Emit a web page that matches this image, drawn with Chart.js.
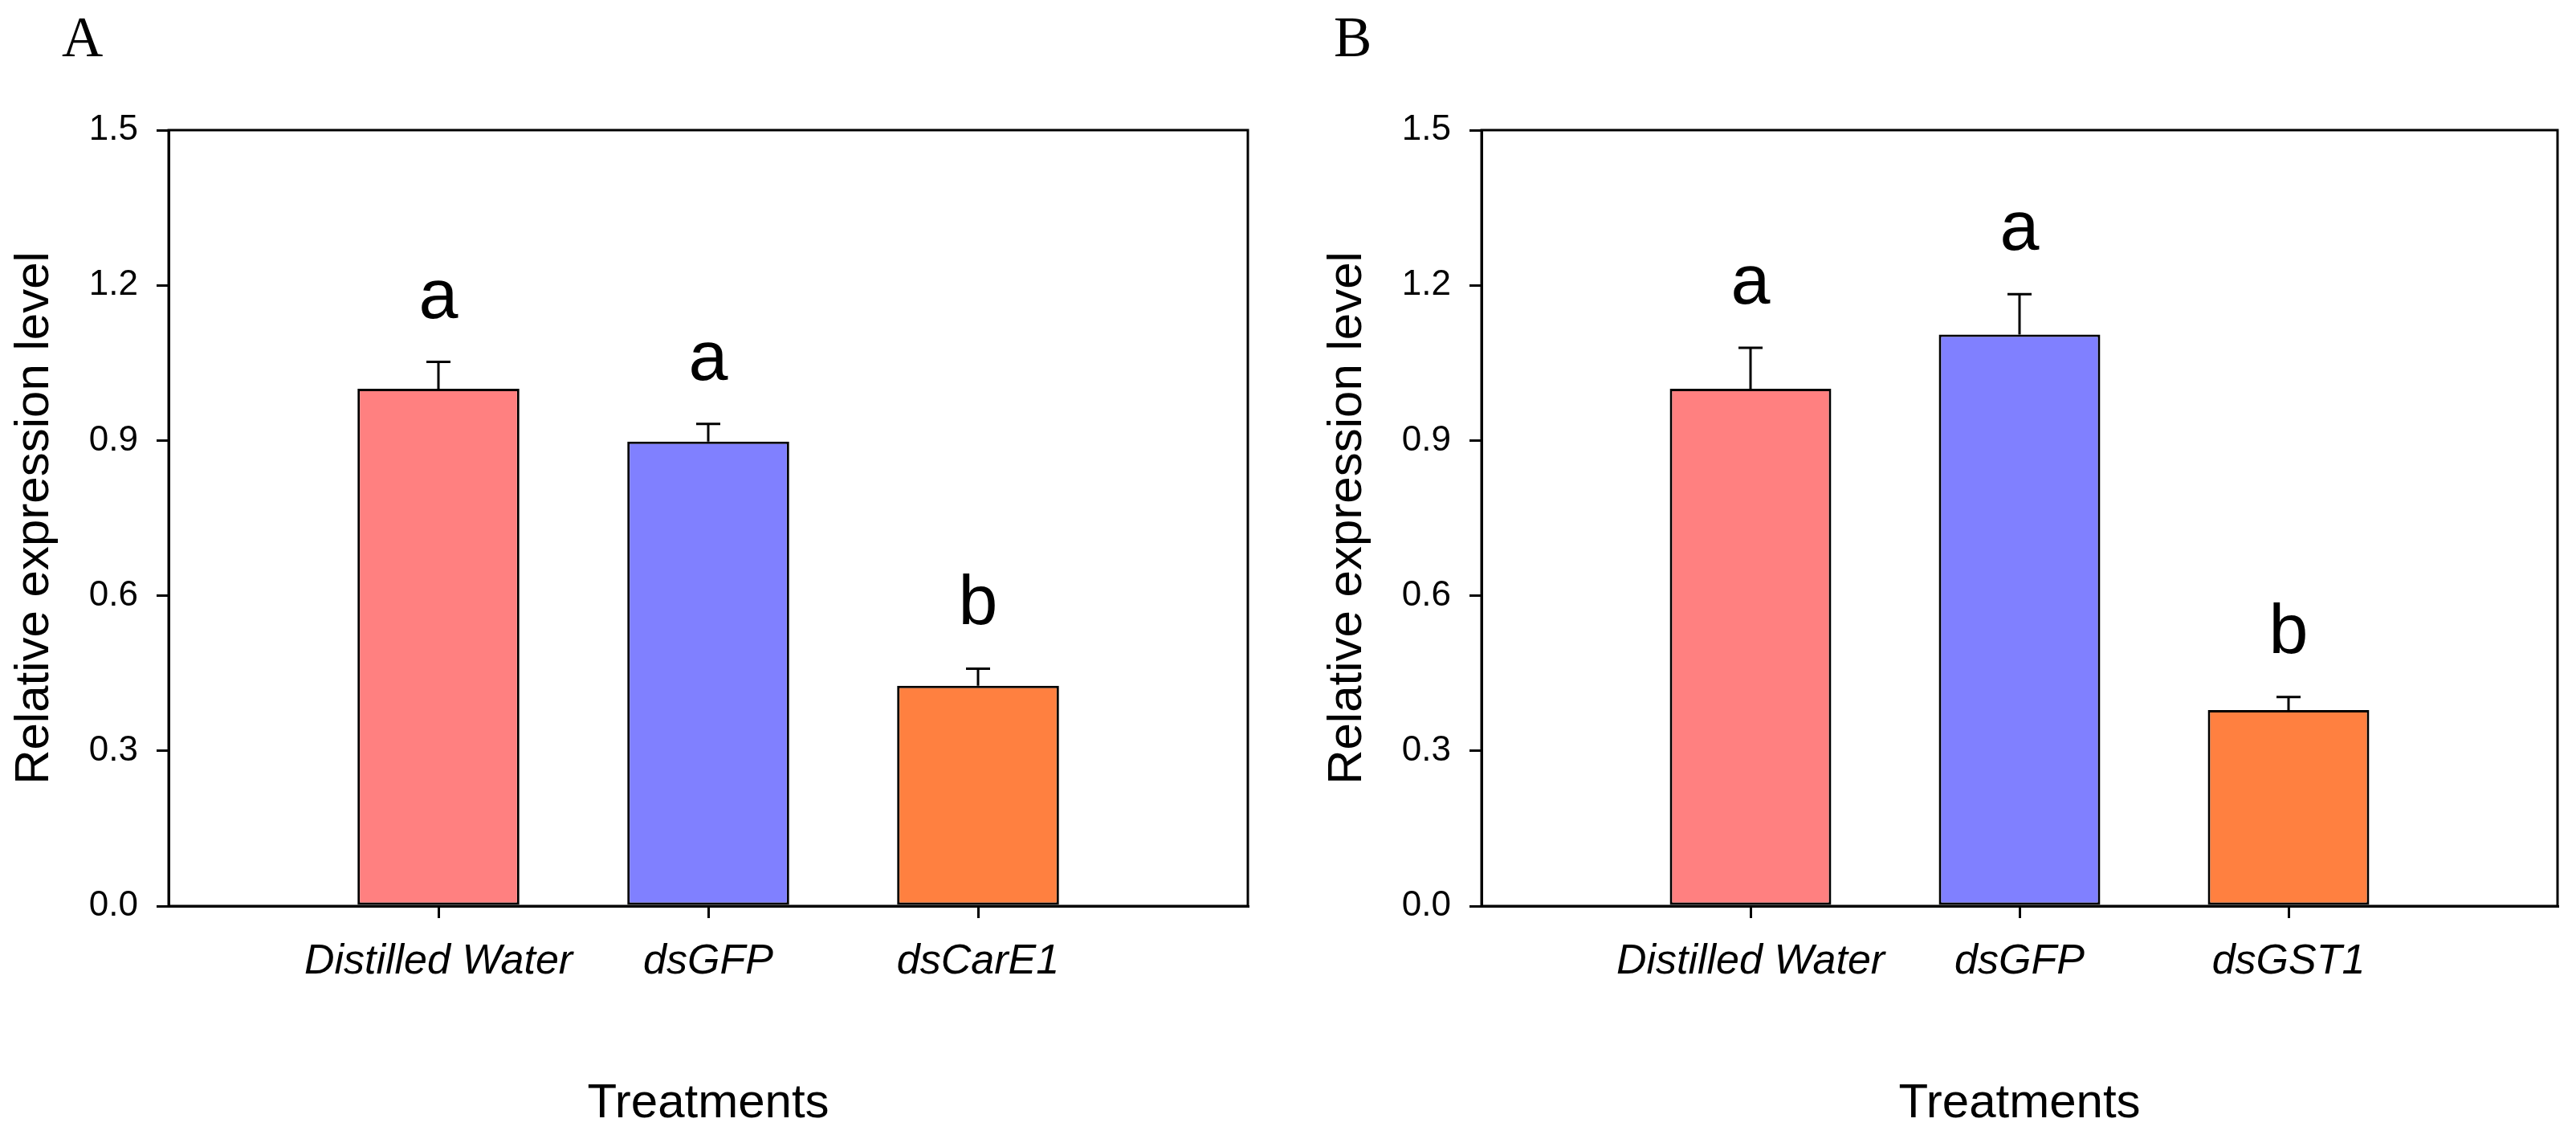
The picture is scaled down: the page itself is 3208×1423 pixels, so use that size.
<!DOCTYPE html>
<html>
<head>
<meta charset="utf-8">
<script src="https://cdn.jsdelivr.net/npm/chart.js@4.4.1/dist/chart.umd.min.js"></script>
<style>
    body { margin: 0; background: #fff; }
    canvas { position: absolute; top: 0; }
</style>
</head>
<body>
<canvas id="graficaA" width="1635" height="1423" style="left:0px"></canvas>
<canvas id="graficaB" width="1573" height="1423" style="left:1635px"></canvas>
<script>
// Datos
const tratamientosA = ['Distilled Water', 'dsGFP', 'dsCarE1'];
const expresionA = [1.0, 0.898, 0.426];
const errorA = [0.052, 0.034, 0.033];
const letrasA = ['a', 'a', 'b'];

const tratamientosB = ['Distilled Water', 'dsGFP', 'dsGST1'];
const expresionB = [1.0, 1.105, 0.379];
const errorB = [0.079, 0.078, 0.025];
const letrasB = ['a', 'a', 'b'];

const ticksY = [0.0, 0.3, 0.6, 0.9, 1.2, 1.5];

// Colores de las barras (estilo SigmaPlot)
const coloresBarras = ['#FF8080', '#8080FF', '#FF8040'];
const FUENTE = '"Liberation Sans", Arial, sans-serif';

// Barras de error (solo hacia arriba) y letras de significancia
const barrasError = {
    id: 'barrasError',
    afterDatasetsDraw(chart, args, opts) {
        const ctx = chart.ctx;
        const escalaY = chart.scales.y;
        const meta = chart.getDatasetMeta(0);
        const valores = chart.data.datasets[0].data;

        ctx.save();
        ctx.strokeStyle = '#000';
        ctx.lineWidth = 3;
        meta.data.forEach((barra, i) => {
            const valor = valores[i];
            if (valor === null || valor === undefined) return;
            const yArriba = escalaY.getPixelForValue(valor + opts.errores[i]);

            ctx.beginPath();
            ctx.moveTo(barra.x, barra.y);
            ctx.lineTo(barra.x, yArriba);
            ctx.moveTo(barra.x - 15, yArriba);
            ctx.lineTo(barra.x + 15, yArriba);
            ctx.stroke();

            ctx.fillStyle = '#000';
            ctx.font = '88px ' + FUENTE;
            ctx.textAlign = 'center';
            ctx.textBaseline = 'alphabetic';
            ctx.fillText(opts.letras[i], barra.x, yArriba - 55);
        });
        ctx.restore();
    }
};

// Marco completo alrededor del area de la grafica y letra del panel
const marcoPanel = {
    id: 'marcoPanel',
    afterDraw(chart, args, opts) {
        const {ctx, chartArea} = chart;
        ctx.save();
        ctx.strokeStyle = '#000';
        ctx.lineWidth = 3;
        ctx.strokeRect(chartArea.left, chartArea.top,
            chartArea.right - chartArea.left, chartArea.bottom - chartArea.top);

        ctx.fillStyle = '#000';
        ctx.font = '71px "Liberation Serif", "Times New Roman", serif';
        ctx.textAlign = 'left';
        ctx.textBaseline = 'alphabetic';
        ctx.fillText(opts.texto, opts.x, 70);
        ctx.restore();
    }
};

function crearGrafica(idCanvas, tratamientos, valores, errores, letras, panel, panelX, margenDerecho) {
    const ctx = document.getElementById(idCanvas);
    if (!ctx) return;

    // Categorias vacias a los lados para dejar el hueco como en la figura
    const etiquetas = [''].concat(tratamientos, ['']);
    const datos = [null].concat(valores, [null]);
    const erroresPad = [null].concat(errores, [null]);
    const letrasPad = [null].concat(letras, [null]);
    const colores = ['#fff'].concat(coloresBarras, ['#fff']);

    return new Chart(ctx, {
        type: 'bar',
        data: {
            labels: etiquetas,
            datasets: [{
                data: datos,
                backgroundColor: colores,
                borderColor: '#000',
                borderWidth: 3,
                borderSkipped: false,
                categoryPercentage: 1,
                barPercentage: 0.6
            }]
        },
        options: {
            responsive: false,
            animation: false,
            layout: {
                padding: { top: 162, right: margenDerecho, bottom: 0, left: 0 }
            },
            plugins: {
                legend: { display: false },
                tooltip: { enabled: false },
                barrasError: { errores: erroresPad, letras: letrasPad },
                marcoPanel: { texto: panel, x: panelX }
            },
            scales: {
                x: {
                    type: 'category',
                    offset: false,
                    afterFit: function(escala) { escala.height = 295; },
                    border: { display: true, color: '#000', width: 3 },
                    grid: {
                        offset: false,
                        drawOnChartArea: false,
                        drawTicks: true,
                        tickLength: 15,
                        lineWidth: 3,
                        color: function(c) {
                            return c.tick && c.tick.label ? '#000' : 'rgba(0,0,0,0)';
                        }
                    },
                    ticks: {
                        autoSkip: false,
                        maxRotation: 0,
                        padding: 23,
                        color: '#000',
                        font: { family: FUENTE, size: 52, style: 'italic' }
                    },
                    title: {
                        display: true,
                        text: 'Treatments',
                        color: '#000',
                        font: { family: FUENTE, size: 60 },
                        padding: { top: 0, bottom: 13 }
                    }
                },
                y: {
                    min: 0,
                    max: 1.5,
                    afterFit: function(escala) { escala.width = 210; },
                    afterBuildTicks: function(escala) {
                        escala.ticks = ticksY.map(v => ({ value: v }));
                    },
                    border: { display: true, color: '#000', width: 3 },
                    grid: {
                        drawOnChartArea: false,
                        drawTicks: true,
                        tickLength: 15,
                        lineWidth: 3,
                        color: '#000'
                    },
                    ticks: {
                        padding: 23,
                        color: '#000',
                        font: { family: FUENTE, size: 44 },
                        callback: function(valor) { return Number(valor).toFixed(1); }
                    },
                    title: {
                        display: true,
                        text: 'Relative expression level',
                        color: '#000',
                        font: { family: FUENTE, size: 60 },
                        padding: { top: 7, bottom: 0 }
                    }
                }
            }
        },
        plugins: [barrasError, marcoPanel]
    });
}

crearGrafica('graficaA', tratamientosA, expresionA, errorA, letrasA, 'A', 77, 81);
crearGrafica('graficaB', tratamientosB, expresionB, errorB, letrasB, 'B', 26, 18);
</script>
</body>
</html>
